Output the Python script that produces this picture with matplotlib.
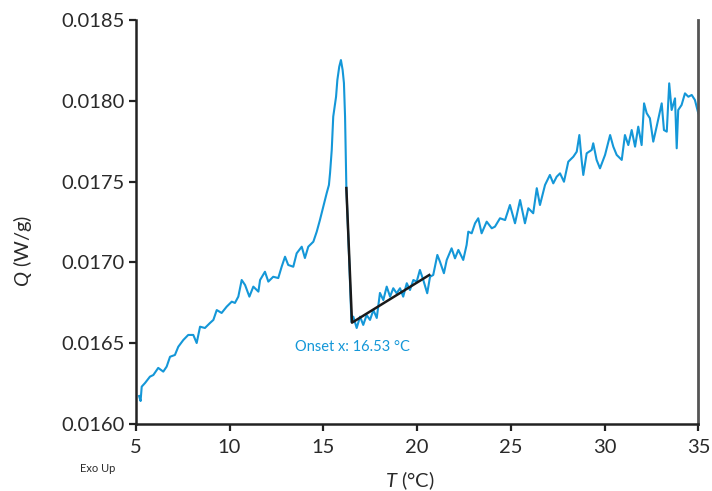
import matplotlib
matplotlib.use("Agg")
import matplotlib.pyplot as plt

plt.rcParams['font.family'] = ['Lato', 'DejaVu Sans']
plt.rcParams['mathtext.fontset'] = 'custom'
plt.rcParams['mathtext.rm'] = 'Lato'
plt.rcParams['mathtext.it'] = 'Lato:italic'

# Temperature (°C)
temperature = [
    5.18, 5.26, 5.32, 5.50, 5.76, 5.94, 6.20, 6.47, 6.65, 6.83, 7.09, 7.27, 7.54, 7.80,
    8.07, 8.25, 8.43, 8.69, 8.96, 9.14, 9.32, 9.58, 9.85, 10.12, 10.29, 10.47, 10.65,
    10.83, 11.06, 11.27, 11.54, 11.63, 11.89, 12.07, 12.33, 12.60, 12.78, 12.96, 13.13,
    13.40, 13.58, 13.85, 14.02, 14.20, 14.47, 14.65, 14.82, 15.00, 15.18, 15.30, 15.36,
    15.45, 15.53, 15.68, 15.75, 15.85, 15.94, 16.03, 16.10, 16.16, 16.19, 16.23, 16.37,
    16.50, 16.60, 16.78, 16.96, 17.13, 17.31, 17.49, 17.67, 17.85, 18.02, 18.20, 18.38,
    18.56, 18.73, 18.91, 19.09, 19.26, 19.45, 19.62, 19.80, 19.98, 20.15, 20.33, 20.54,
    20.69, 20.86, 21.08, 21.22, 21.43, 21.58, 21.84, 22.02, 22.20, 22.46, 22.64, 22.73,
    22.91, 23.09, 23.26, 23.44, 23.71, 23.98, 24.15, 24.42, 24.69, 24.95, 25.22, 25.49,
    25.75, 25.93, 26.19, 26.38, 26.55, 26.82, 27.08, 27.26, 27.44, 27.62, 27.83, 28.06,
    28.33, 28.51, 28.65, 28.77, 28.86, 29.04, 29.31, 29.39, 29.57, 29.75, 30.02, 30.29,
    30.46, 30.64, 30.91, 31.08, 31.26, 31.44, 31.62, 31.79, 31.97, 32.10, 32.24, 32.41,
    32.59, 32.77, 33.04, 33.16, 33.31, 33.44, 33.57, 33.75, 33.84, 33.92, 34.10, 34.28,
    34.46, 34.64, 34.81, 34.99,
]

# Heat flow Q (W/g)
heat_flow = [
    0.016173, 0.016142, 0.016231, 0.016254, 0.016293, 0.016303, 0.016347, 0.016324,
    0.016355, 0.016416, 0.016427, 0.016478, 0.016520, 0.016551, 0.016551, 0.016501,
    0.016602, 0.016594, 0.016625, 0.016644, 0.016705, 0.016687, 0.016726, 0.016757,
    0.016749, 0.016788, 0.016891, 0.016860, 0.016788, 0.016850, 0.016819, 0.016891,
    0.016942, 0.016881, 0.016911, 0.016903, 0.016973, 0.017035, 0.016984, 0.016973,
    0.017056, 0.017097, 0.017027, 0.017097, 0.017128, 0.017190, 0.017262, 0.017345,
    0.017428, 0.017479, 0.017553, 0.017696, 0.017902, 0.018025, 0.018129, 0.018211,
    0.018252, 0.018191, 0.018110, 0.017902, 0.017696, 0.017460, 0.017046, 0.016631,
    0.016664, 0.016594, 0.016664, 0.016613, 0.016674, 0.016644, 0.016705, 0.016656,
    0.016811, 0.016767, 0.016850, 0.016788, 0.016840, 0.016809, 0.016840, 0.016788,
    0.016871, 0.016829, 0.016891, 0.016881, 0.016953, 0.016891, 0.016809, 0.016911,
    0.016922, 0.017046, 0.017004, 0.016933, 0.017015, 0.017087, 0.017025, 0.017077,
    0.017015, 0.017108, 0.017190, 0.017180, 0.017242, 0.017273, 0.017180, 0.017252,
    0.017211, 0.017221, 0.017273, 0.017262, 0.017355, 0.017242, 0.017386, 0.017242,
    0.017335, 0.017304, 0.017459, 0.017355, 0.017479, 0.017541, 0.017489, 0.017530,
    0.017551, 0.017499, 0.017623, 0.017654, 0.017685, 0.017788, 0.017634, 0.017541,
    0.017675, 0.017696, 0.017737, 0.017634, 0.017582, 0.017665, 0.017788, 0.017716,
    0.017665, 0.017634, 0.017788, 0.017726, 0.017819, 0.017716, 0.017840, 0.017726,
    0.017984, 0.017923, 0.017892, 0.017747, 0.017840, 0.017984, 0.017819, 0.017809,
    0.018108, 0.017943, 0.018015, 0.017706, 0.017943, 0.017974, 0.018046, 0.018025,
    0.018036, 0.018005, 0.017923,
]

# Onset construction lines
onset_T = [16.23, 16.53, 20.65]
onset_Q = [0.017460, 0.016627, 0.016922]
onset_label = "Onset x: 16.53 °C"

x_ticks = [5, 10, 15, 20, 25, 30, 35]
y_ticks = [0.0160, 0.0165, 0.0170, 0.0175, 0.0180, 0.0185]

blue = '#1497d8'

fig = plt.figure(figsize=(7.12, 4.91), dpi=100)
ax = fig.add_axes([0.1906, 0.1365, 0.7904, 0.8228])

ax.plot(temperature, heat_flow, color=blue, lw=1.5)
ax.plot(onset_T, onset_Q, color='#1a1a1a', lw=1.8)

ax.set_xlim(5, 35)
ax.set_ylim(0.0160, 0.0185)
ax.set_xticks(x_ticks)
ax.set_xticklabels([str(t) for t in x_ticks])
ax.set_yticks(y_ticks)
ax.set_yticklabels([f"{v:.4f}" for v in y_ticks])

for s in ['left', 'bottom']:
    ax.spines[s].set_color('#222222')
    ax.spines[s].set_linewidth(1.8)
ax.spines['top'].set_visible(False)
ax.spines['right'].set_color('#555555')
ax.spines['right'].set_linewidth(2.0)

ax.tick_params(axis='both', which='major', direction='out', length=5, width=1.6,
               color='#222222', labelsize=14.5, labelcolor='#2a2a2a', pad=3)
ax.tick_params(axis='x', pad=6)

ax.text(16.53, 0.016475, onset_label, color=blue, fontsize=10.5,
        ha='center', va='center')

fig.text(0.031, 0.49, r'$\it{Q}$ (W/g)', rotation=90, ha='center', va='center',
         fontsize=14.5, color='#2a2a2a')
fig.text(0.576, 0.021, r'$\it{T}$ (°C)', ha='center', va='center',
         fontsize=14.5, color='#2a2a2a')
fig.text(0.137, 0.045, 'Exo Up', ha='center', va='center', fontsize=8,
         color='#2a2a2a')

fig.savefig('out.png', dpi=100)
